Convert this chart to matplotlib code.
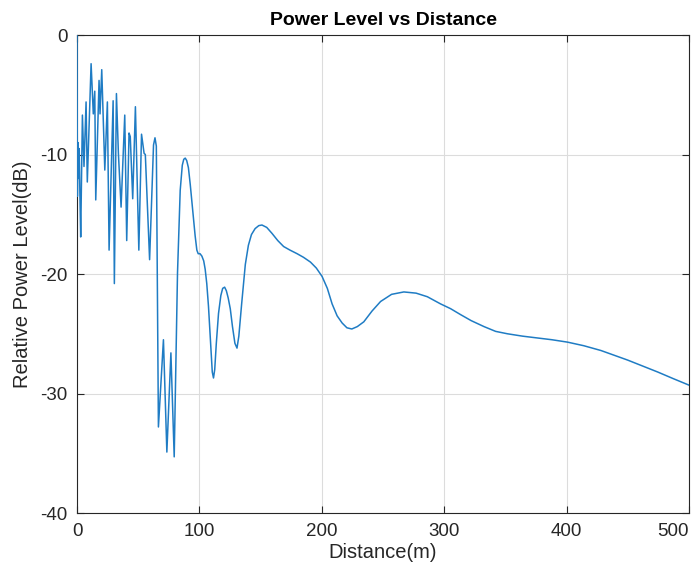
import matplotlib
matplotlib.use("Agg")
import matplotlib.pyplot as plt

distance_m = [
    0.0, 0.3, 0.8, 1.3, 1.8, 2.3, 3.0, 4.4, 5.7, 7.4, 8.4, 11.5, 13.3, 14.5, 15.3,
    18.0, 18.8, 20.2, 22.7, 24.8, 26.2, 29.5, 30.5, 32.2, 33.8, 36.0, 39.0, 40.6,
    42.5, 43.5, 45.5, 47.7, 50.5, 52.7, 54.8, 55.8, 59.3, 62.5, 63.7, 64.8, 66.5,
    70.6, 73.4, 76.7, 79.4, 82.1, 84.3, 86.0, 87.2, 88.4, 89.6, 91.0, 92.5, 94.7,
    96.5, 97.9, 99.0, 100.5, 102.0, 103.5, 104.7, 106.0, 107.4, 109.5, 110.5, 111.5,
    112.5, 113.8, 115.6, 117.5, 119.0, 120.6, 122.0, 123.5, 125.2, 127.0, 129.0,
    130.7, 132.2, 134.5, 137.5, 140.0, 142.5, 145.5, 148.5, 151.1, 155.0, 159.3,
    164.0, 168.8, 174.0, 179.8, 185.0, 190.7, 195.5, 200.2, 204.5, 208.4, 212.5,
    216.6, 220.5, 224.5, 229.0, 234.3, 241.0, 248.0, 257.0, 267.0, 277.0, 286.2,
    297.0, 305.2, 313.4, 322.0, 332.5, 342.0, 351.6, 364.0, 376.2, 388.0, 400.7,
    414.0, 428.0, 439.0, 449.8, 462.0, 474.4, 487.0, 500.0,
]
power_db = [
    0.0, -13.5, -9.0, -12.0, -9.5, -13.0, -16.9, -6.7, -11.0, -5.6, -12.3, -2.4, -6.6, -4.7, -13.8,
    -3.8, -6.6, -2.9, -11.3, -5.6, -18.0, -5.5, -20.8, -4.9, -9.9, -14.4, -6.7, -17.2,
    -8.2, -8.5, -13.7, -6.0, -18.0, -8.3, -9.9, -10.0, -18.8, -9.2, -8.6, -9.3, -32.8,
    -25.5, -34.9, -26.6, -35.3, -19.9, -13.0, -10.9, -10.4, -10.3, -10.5, -11.1, -12.5, -14.9,
    -16.8, -18.0, -18.3, -18.3, -18.5, -18.9, -19.6, -20.8, -22.7, -26.5, -28.2, -28.7,
    -28.0, -25.8, -23.3, -21.8, -21.2, -21.1, -21.4, -22.0, -22.9, -24.4, -25.8,
    -26.2, -25.2, -22.5, -19.2, -17.6, -16.7, -16.2, -15.95, -15.9, -16.1, -16.6,
    -17.2, -17.7, -18.0, -18.3, -18.6, -19.0, -19.5, -20.2, -21.2, -22.5, -23.5,
    -24.1, -24.5, -24.6, -24.4, -24.0, -23.1, -22.3, -21.7, -21.5, -21.6, -21.9,
    -22.5, -22.9, -23.4, -23.9, -24.4, -24.8, -25.0, -25.2, -25.35, -25.5, -25.7,
    -26.0, -26.4, -26.8, -27.2, -27.7, -28.2, -28.75, -29.3,
]
x_ticks = [0, 100, 200, 300, 400, 500]
y_ticks = [0, -10, -20, -30, -40]

plt.rcParams['font.family'] = ['Liberation Sans', 'DejaVu Sans']
plt.rcParams['axes.unicode_minus'] = False

fig = plt.figure(figsize=(6.92, 5.77), dpi=100)
ax = fig.add_axes([0.1113, 0.1109, 0.8844, 0.8284])

ax.plot(distance_m, power_db, color='#1f7cc4', linewidth=1.1, zorder=3)

ax.set_xlim(0, 500)
ax.set_ylim(-40, 0)
ax.set_xticks(x_ticks)
ax.set_yticks(y_ticks)
ax.set_xticklabels([str(v) for v in x_ticks])
ax.set_yticklabels([str(v) for v in y_ticks])
xlabels = ax.get_xticklabels()
xlabels[-1].set_horizontalalignment('right')
xlabels[-1].set_x(xlabels[-1].get_position()[0])

edge = '#262626'
for s in ax.spines.values():
    s.set_color(edge)
    s.set_linewidth(0.8)
ax.tick_params(direction='in', length=5, width=0.8, colors=edge, labelsize=13.5,
               top=True, right=True, pad=7)
ax.grid(True, color='#dcdcdc', linewidth=0.8)
ax.set_axisbelow(True)

ax.set_title('Power Level vs Distance', fontsize=14, fontweight='bold', color='black', pad=7)
ax.set_xlabel('Distance(m)', fontsize=14.5, color=edge, labelpad=2)
ax.set_ylabel('Relative Power Level(dB)', fontsize=14.5, color=edge, labelpad=6)

fig.savefig('out.png', dpi=100)
